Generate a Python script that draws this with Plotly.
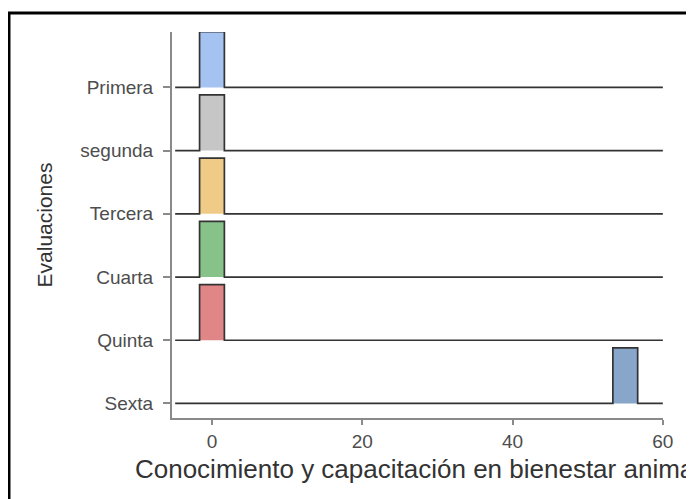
import plotly.graph_objects as go

# evaluation rounds, top to bottom
evaluaciones = ["Primera", "segunda", "Tercera", "Cuarta", "Quinta", "Sexta"]
# score where each round's ridge sits
puntajes = [0, 0, 0, 0, 0, 55]
colores = ["#a5c3f0", "#c6c6c6", "#f0cb88", "#87c388", "#e08686", "#88a5ca"]

x_ticks = [0, 20, 40, 60]
bin_width = 3.3      # width of the single bin of each ridge
ridge_height = 0.88  # relative to the spacing between rows
x_min, x_max = -4.9, 60

fig = go.Figure()

n = len(evaluaciones)
for i, (nombre, p, col) in enumerate(zip(evaluaciones, puntajes, colores)):
    base = n - 1 - i
    left, right = p - bin_width / 2, p + bin_width / 2
    top = base + ridge_height
    # filled bin
    fig.add_trace(go.Scatter(
        x=[left, left, right, right, left], y=[base, top, top, base, base],
        mode="lines", fill="toself", fillcolor=col,
        line=dict(width=0), hoverinfo="skip", showlegend=False,
    ))
    # ridge outline incl. baseline
    fig.add_trace(go.Scatter(
        x=[x_min, left, left, right, right, x_max],
        y=[base, base, top, top, base, base],
        mode="lines", line=dict(color="#333333", width=1.7),
        name=nombre, showlegend=False,
    ))

axis_col = "#8a8a8a"
fig.update_xaxes(
    range=[-5.32, 60.02], tickvals=x_ticks, ticks="outside", ticklen=5,
    tickwidth=2, tickcolor=axis_col, showline=True, linecolor=axis_col,
    linewidth=2, showgrid=False, zeroline=False,
    tickfont=dict(size=19, color="#4d4d4d"),
    title=dict(text="Conocimiento y capacitación en bienestar animal",
               font=dict(size=26, color="#333333"), standoff=9),
)
fig.update_yaxes(
    range=[-0.23, 5.876], tickvals=list(range(n - 1, -1, -1)),
    ticktext=evaluaciones, ticks="outside", ticklen=7, tickwidth=2,
    tickcolor=axis_col, showline=True, linecolor=axis_col, linewidth=2,
    showgrid=False, zeroline=False, ticklabelstandoff=6,
    tickfont=dict(size=19, color="#4d4d4d"),
    title=dict(text="Evaluaciones", font=dict(size=21, color="#333333"),
               standoff=22),
)

# outer frame around the whole picture
fig.add_shape(type="rect", xref="paper", yref="paper",
              x0=-0.332, x1=1.057, y0=-0.3, y1=1.049,
              line=dict(color="black", width=3))

# page body keeps an 8px margin, so the figure is 8px smaller
fig.update_layout(
    width=686, height=491,
    margin=dict(l=164, r=31, t=24, b=81),
    plot_bgcolor="white", paper_bgcolor="white",
    font=dict(family="Liberation Sans, Arial, sans-serif"),
)

fig.write_html("out.html")
